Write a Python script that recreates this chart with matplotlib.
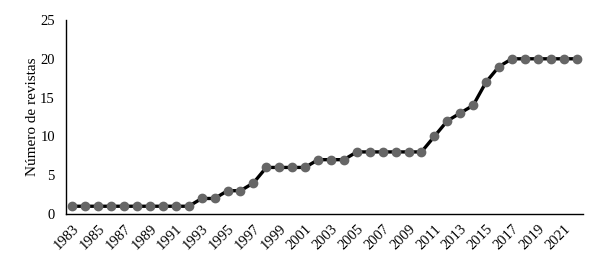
import matplotlib.pyplot as plt
import numpy as np

years = list(range(1983, 2023))
values = [1, 1, 1, 1, 1, 1, 1, 1, 1, 1,
          2, 2, 3, 3, 4, 6, 6, 6, 6, 7,
          7, 7, 8, 8, 8, 8, 8, 8, 10, 12,
          13, 14, 17, 19, 20, 20, 20, 20, 20, 20]
ylabel = "Número de revistas"

plt.rcParams['font.family'] = ['Liberation Serif', 'DejaVu Serif']

fig = plt.figure(figsize=(6.08, 2.67), dpi=100)
ax = fig.add_axes([66/608, 1-214/267, (583-66)/608, (214-20)/267])

x = np.arange(len(years))
ax.plot(x, values, color='black', lw=2.4, marker='o', markersize=6,
        markerfacecolor='#666666', markeredgecolor='#666666', zorder=3)

ax.set_xlim(-0.5, len(years)-0.5)
ax.set_ylim(0, 25)
ax.set_yticks([0, 5, 10, 15, 20, 25])
ax.set_xticks(x[::2])
ax.set_xticklabels([str(y) for y in years[::2]], rotation=45, ha='right',
                   rotation_mode='anchor')
ax.tick_params(axis='both', length=0, labelsize=10.5, colors='black')
ax.tick_params(axis='x', pad=6)
ax.tick_params(axis='y', pad=8)
for s in ['top', 'right']:
    ax.spines[s].set_visible(False)
for s in ['left', 'bottom']:
    ax.spines[s].set_linewidth(1.0)
    ax.spines[s].set_color('black')
ax.set_ylabel(ylabel, fontsize=11, labelpad=1)
for l in ax.lines:
    l.set_clip_on(False)

fig.savefig('out.png', dpi=100)
